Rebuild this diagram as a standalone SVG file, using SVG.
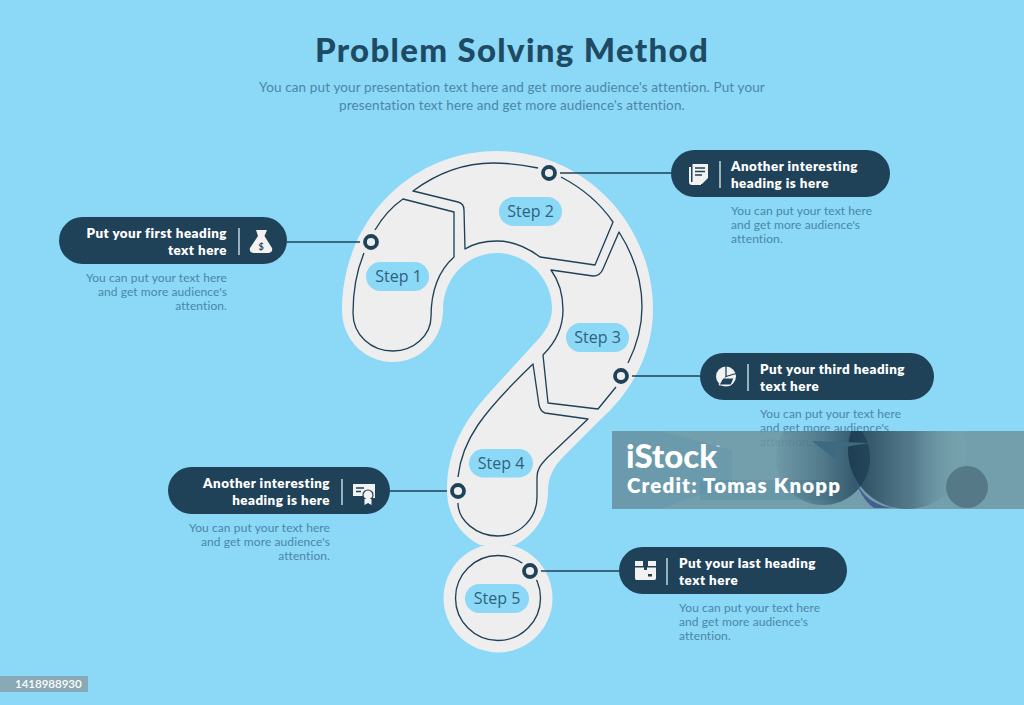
<svg xmlns="http://www.w3.org/2000/svg" width="1024" height="705" viewBox="0 0 1024 705">
<style>
.title{font:900 33px Lato,"Liberation Sans",sans-serif;fill:#1f4a63;letter-spacing:1.3px}
.sub{font:400 13.5px Lato,"Liberation Sans",sans-serif;fill:#4a87a6;letter-spacing:.13px}
.body{font:400 12px Lato,"Liberation Sans",sans-serif;fill:#4a87a6;letter-spacing:.09px}
.head{font:800 13.4px Lato,"Liberation Sans",sans-serif;fill:#fff;letter-spacing:.48px}
.step{font:400 16px "Open Sans","Liberation Sans",sans-serif;fill:#2f627c;text-anchor:middle}
.e{text-anchor:end}.m{text-anchor:middle}
.out{fill:none;stroke:#1f4258;stroke-width:1.35;stroke-linejoin:round}
.pill{fill:#1f4258}.tag{fill:#8bd8f7}
.div{stroke:#d8eef7;stroke-width:1.3}
.lead{stroke:#1f4258;stroke-width:1.3}
.halo{fill:#eee}.ring{fill:#eee;stroke:#1f4258;stroke-width:3.8}
.ic{fill:#f2f2f2}
</style>
<defs>
<clipPath id="wm"><rect x="612" y="431" width="412" height="78"/></clipPath>
<linearGradient id="g1" x1="0" x2="1"><stop offset="0" stop-color="#1f4258" stop-opacity=".05"/><stop offset=".5" stop-color="#1f4258" stop-opacity=".4"/><stop offset="1" stop-color="#1f4258" stop-opacity=".9"/></linearGradient>
<linearGradient id="g2" x1="0" x2="1"><stop offset="0" stop-color="#1a3a4e" stop-opacity=".9"/><stop offset=".55" stop-color="#36586c" stop-opacity=".5"/><stop offset="1" stop-color="#8bb" stop-opacity=".12"/></linearGradient>
</defs>
<rect width="1024" height="705" fill="#8bd8f7"/>
<g id="header">
<text class="title m" x="512" y="62">Problem Solving Method</text>
<text class="sub m" x="512" y="92">You can put your presentation text here and get more audience's attention. Put your</text>
<text class="sub m" x="512" y="110">presentation text here and get more audience's attention.</text>
</g>
<g id="question-mark">
<path class="halo" d="M342 310C342 222 410 151 497 151C583 151 653 222 653 310C653 352 632 392 600 420L565 455C552 468 548 478 548 492C548 515 535 535 515 545L480 545C460 535 447 515 447 490C447 455 460 425 490 392L533 345C545 333 552 322 552 308C552 278 527 253 497 253C467 253 443 278 443 310C443 340 420 362 393 362C365 362 342 340 342 310Z"/>
<circle class="halo" cx="498" cy="598" r="54.5"/>
</g>
<g id="connectors">
<line class="lead" x1="287" y1="242" x2="371" y2="242"/>
<line class="lead" x1="549" y1="173" x2="671" y2="173"/>
<line class="lead" x1="621" y1="376" x2="700" y2="376"/>
<line class="lead" x1="390" y1="491" x2="458" y2="491"/>
<line class="lead" x1="530" y1="571" x2="619" y2="571"/>
</g>
<g id="step-1">
<path class="out" d="M364 253C357 270 353 290 353 313C353 335 371 351 393 351C414 351 431 335 431 317C431 295 436 273 454 257L454 212L403 199C390 208 382 218 375 230"/>
<rect class="tag" x="366" y="262" width="63" height="29" rx="14.5"/>
<text class="step" x="398.500" y="282">Step 1</text>
<circle class="halo" cx="371" cy="242" r="11"/><circle class="ring" cx="371" cy="242" r="6"/>
</g>
<g id="step-2">
<path class="out" d="M538 168C524 165 509 163 493 163C463 163 436 174 413 191L458 202C462 203 464 206 464 210L465 249C473 244 484 241 497 241C514 241 528 248 540 257L595 265L613 222C600 203 582 188 561 177"/>
<rect class="tag" x="499" y="197" width="63" height="29" rx="14.500"/>
<text class="step" x="530.500" y="217">Step 2</text>
<circle class="halo" cx="549" cy="173" r="11"/><circle class="ring" cx="549" cy="173" r="6"/>
</g>
<g id="step-3">
<path class="out" d="M628 363C637 345 642 327 642 307C642 279 633 254 619 232L603 269C601 274 597 276 593 276L551 270C559 281 563 295 563 310C563 327 555 343 543 355L548 403L598 409L616 387"/>
<rect class="tag" x="566" y="323" width="63" height="29" rx="14.500"/>
<text class="step" x="597.500" y="343">Step 3</text>
<circle class="halo" cx="621" cy="376" r="11"/><circle class="ring" cx="621" cy="376" r="6"/>
</g>
<g id="step-4">
<path class="out" d="M458 477C462 440 482 413 533 364L539 405C540 409 542 412 545 413L588 419L548 457C540 465 537 470 537 477L537 497C537 518 520 536 498 536C476 536 458 520 458 503"/>
<rect class="tag" x="469" y="449" width="64" height="28.500" rx="14.200"/>
<text class="step" x="501" y="469">Step 4</text>
<circle class="halo" cx="458" cy="491" r="11"/><circle class="ring" cx="458" cy="491" r="6"/>
</g>
<g id="step-5">
<circle class="out" cx="498" cy="598" r="42.500"/>
<rect class="tag" x="465" y="584" width="64" height="29" rx="14.500"/>
<text class="step" x="497" y="604">Step 5</text>
<circle class="halo" cx="530" cy="571" r="11"/><circle class="ring" cx="530" cy="571" r="6"/>
</g>
<g id="callout-1">
<rect class="pill" x="59" y="217" width="228" height="47" rx="23.500"/>
<text class="head e" x="227" y="238">Put your first heading</text>
<text class="head e" x="227" y="255">text here</text>
<line class="div" x1="239" y1="228" x2="239" y2="255"/>
<path class="ic" d="M256 230H267L264.500 236L272 248C273 251 271 253 268 253H254C251 253 249 251 250 248L258 236Z"/>
<text x="261" y="250" font-family="Lato,sans-serif" font-size="9" font-weight="700" fill="#1f4258" text-anchor="middle">$</text>
<text class="body e" x="227" y="282">You can put your text here</text>
<text class="body e" x="227" y="296">and get more audience's</text>
<text class="body e" x="227" y="310">attention.</text>
</g>
<g id="callout-2">
<rect class="pill" x="671" y="150" width="219" height="47" rx="23.500"/>
<path class="ic" d="M689 167H691V182H701V185H692C690 185 689 184 689 182Z"/>
<path class="ic" d="M692.500 164H708V178L702 184H692.500Z"/>
<path d="M695 168H705M695 171.500H705M695 175H702" stroke="#1f4258" stroke-width="1.300"/>
<line class="div" x1="720" y1="161" x2="720" y2="188"/>
<text class="head" x="731" y="171">Another interesting</text>
<text class="head" x="731" y="188">heading is here</text>
<text class="body" x="731" y="215">You can put your text here</text>
<text class="body" x="731" y="229">and get more audience's</text>
<text class="body" x="731" y="243">attention.</text>
</g>
<g id="callout-3">
<rect class="pill" x="700" y="353" width="234" height="47" rx="23.500"/>
<circle class="ic" cx="726" cy="376.500" r="10"/>
<path d="M726 376.500L726 366M726 376.500L736 373.500M726 376.500L720 385" stroke="#1f4258" stroke-width="1.300" fill="none"/>
<path d="M723 378H734L731 385H719Z" fill="#1f4258" stroke="#f2f2f2"/>
<line class="div" x1="748" y1="364" x2="748" y2="391"/>
<text class="head" x="760" y="374">Put your third heading</text>
<text class="head" x="760" y="391">text here</text>
<text class="body" x="760" y="418">You can put your text here</text>
<text class="body" x="760" y="432">and get more audience's</text>
<text class="body" x="760" y="446">attention.</text>
</g>
<g id="callout-4">
<rect class="pill" x="168" y="467" width="222" height="47" rx="23.500"/>
<text class="head e" x="330" y="488">Another interesting</text>
<text class="head e" x="330" y="505">heading is here</text>
<line class="div" x1="342" y1="479" x2="342" y2="505"/>
<path class="ic" d="M353 484H375V498H370V496H353Z"/>
<path d="M356 488H364M356 491.500H361" stroke="#1f4258" stroke-width="1.300"/>
<circle class="ic" cx="368" cy="495" r="5" stroke="#1f4258" stroke-width="1.200"/>
<path class="ic" d="M364.500 499H371.500V505L368 503L364.500 505Z"/>
<text class="body e" x="330" y="532">You can put your text here</text>
<text class="body e" x="330" y="546">and get more audience's</text>
<text class="body e" x="330" y="560">attention.</text>
</g>
<g id="callout-5">
<rect class="pill" x="619" y="547" width="228" height="47" rx="23.500"/>
<path class="ic" d="M635 561H643V566H635ZM648 561H656V566H648ZM635 567.500H644V570H647V567.500H656V578C656 579.500 655 580 654 580H637C636 580 635 579.500 635 578Z"/>
<rect x="648" y="574" width="4" height="2.500" fill="#1f4258"/>
<line class="div" x1="667" y1="558" x2="667" y2="585"/>
<text class="head" x="679" y="568">Put your last heading</text>
<text class="head" x="679" y="585">text here</text>
<text class="body" x="679" y="612">You can put your text here</text>
<text class="body" x="679" y="626">and get more audience's</text>
<text class="body" x="679" y="640">attention.</text>
</g>
<g id="watermark">
<rect x="612" y="431" width="412" height="78" fill="#6f949f" fill-opacity=".85"/>
<g clip-path="url(#wm)">
<path d="M612 431H660L732 450V483L660 509H612Z" fill="#5a93ad" fill-opacity=".3"/>
<path d="M700 480H840V500H700Z" fill="#4f87a0" fill-opacity=".3"/>
<circle cx="823" cy="458" r="47" fill="url(#g1)"/>
<circle cx="907" cy="450" r="59" fill="url(#g2)"/>
<path d="M855 478C860 495 875 506 893 508H874C865 502 858 490 855 478Z" fill="#43608f"/>
<path d="M812 441L870 443L838 448L835 459Z" fill="#3d6a80"/>
<circle cx="967" cy="487" r="21" fill="#4a6a78" fill-opacity=".7"/>
</g>
<text x="626" y="468" font-family="Lato,sans-serif" font-size="33" font-weight="900" fill="#fff">iStock</text>
<text x="716" y="449" font-family="Lato,sans-serif" font-size="5" fill="#fff">™</text>
<text x="627" y="493" font-family="Lato,sans-serif" font-size="20.500" font-weight="800" fill="#fff" letter-spacing="1.150">Credit: Tomas Knopp</text>
</g>
<g id="image-id">
<rect x="0" y="676" width="88" height="16" fill="#8aa9b6"/>
<text x="15" y="688" font-family="Lato,sans-serif" font-size="11.500" font-weight="600" fill="#fff">1418988930</text>
</g>
</svg>
